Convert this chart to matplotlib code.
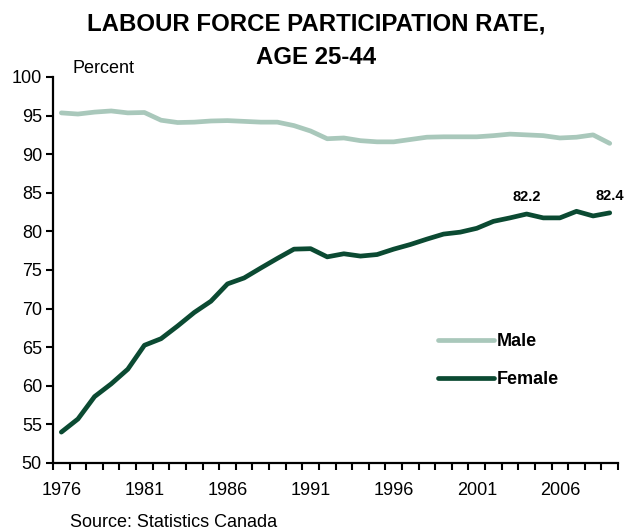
import matplotlib
matplotlib.use("Agg")
import matplotlib.pyplot as plt
from matplotlib.ticker import MultipleLocator, FixedLocator

plt.rcParams["font.family"] = ["Liberation Sans", "DejaVu Sans"]

years = list(range(1976, 2010))
male = [95.35, 95.2, 95.45, 95.6, 95.35, 95.4, 94.4, 94.1, 94.15, 94.3,
        94.35, 94.25, 94.15, 94.15, 93.7, 93.0, 92.0, 92.1, 91.75, 91.6,
        91.6, 91.9, 92.2, 92.25, 92.25, 92.25, 92.4, 92.6, 92.5, 92.4,
        92.1, 92.2, 92.5, 91.4]
female = [54.0, 55.7, 58.6, 60.25, 62.15, 65.25, 66.1, 67.75, 69.5, 70.95,
          73.2, 73.97, 75.25, 76.5, 77.7, 77.76, 76.7, 77.1, 76.8, 77.0,
          77.7, 78.3, 79.0, 79.65, 79.9, 80.4, 81.3, 81.75, 82.25, 81.75,
          81.75, 82.6, 82.0, 82.4]
tick_years = [1976, 1981, 1986, 1991, 1996, 2001, 2006]
labelled = {2004: "82.2", 2009: "82.4"}

male_color = "#a9c8bb"
female_color = "#0b4a32"

fig = plt.figure(figsize=(6.32, 5.32), dpi=100)
ax = fig.add_axes([0.0839, 0.1297, 0.894, 0.7256])

ax.plot(years, male, color=male_color, lw=3.4, solid_capstyle="round", label="Male")
ax.plot(years, female, color=female_color, lw=3.4, solid_capstyle="round", label="Female")

# podpisy wartosci dla wybranych lat
for yr, txt in labelled.items():
    val = female[years.index(yr)]
    ax.annotate(txt, (yr, val), textcoords="offset points", xytext=(0, 7),
                ha="center", va="bottom", fontsize=10.5, fontweight="bold")

ax.set_xlim(years[0] - 0.5, years[-1] + 0.5)
ax.set_ylim(50, 100)
ax.yaxis.set_major_locator(MultipleLocator(5))
ax.xaxis.set_major_locator(FixedLocator(tick_years))
ax.xaxis.set_minor_locator(FixedLocator([y - 0.5 for y in years] + [years[-1] + 0.5]))
ax.tick_params(axis="x", which="major", length=0, pad=14, labelsize=13)
ax.tick_params(axis="x", which="minor", length=5, width=1.5, direction="out")
ax.tick_params(axis="y", length=5, width=1.5, direction="out", pad=3, labelsize=13)

for side in ["top", "right"]:
    ax.spines[side].set_visible(False)
for side in ["left", "bottom"]:
    ax.spines[side].set_linewidth(1.6)
for line in ax.lines:
    line.set_clip_on(False)

ax.legend(loc="upper left", bbox_to_anchor=(0.668, 0.355), frameon=False,
          handlelength=3.1, handletextpad=0.15, labelspacing=1.17,
          prop={"weight": "bold", "size": 13}, borderaxespad=0)

fig.text(0.5, 0.955, "LABOUR FORCE PARTICIPATION RATE,", ha="center", va="center",
         fontsize=17.3, fontweight="bold")
fig.text(0.5, 0.892, "AGE 25-44", ha="center", va="center",
         fontsize=17.3, fontweight="bold")
fig.text(0.114, 0.872, "Percent", ha="left", va="center", fontsize=13)
fig.text(0.111, 0.018, "Source: Statistics Canada", ha="left", va="center", fontsize=13)

fig.savefig("out.png", dpi=100)
